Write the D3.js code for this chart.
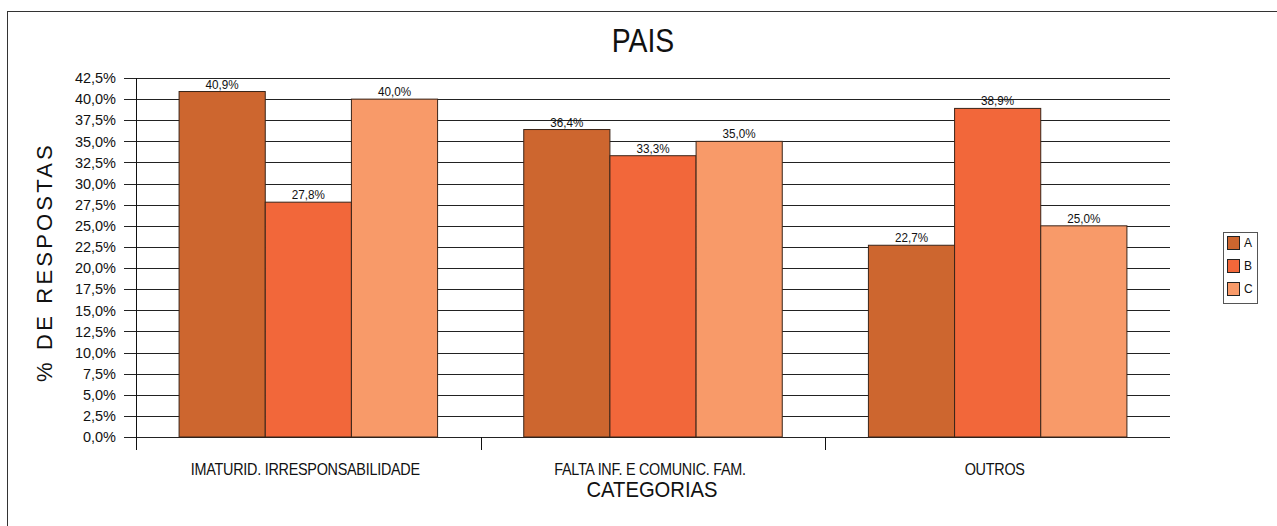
<!DOCTYPE html>
<html>
<head>
<meta charset="utf-8">
<script src="https://cdn.jsdelivr.net/npm/d3@7"></script>
<style>
  html, body { margin: 0; padding: 0; background: #fff; }
  svg { display: block; }
  text { font-family: "Liberation Sans", Arial, sans-serif; fill: #111; }
</style>
</head>
<body>
<svg id="chart" width="1277" height="526"></svg>
<script>
// Category names along the x axis
const categories = ["IMATURID. IRRESPONSABILIDADE", "FALTA INF. E COMUNIC. FAM.", "OUTROS"];
// Series keys shown in the legend
const seriesKeys = ["A", "B", "C"];
// Percentages per series, in category order
const seriesA = [40.9, 36.4, 22.7];
const seriesB = [27.8, 33.3, 38.9];
const seriesC = [40.0, 35.0, 25.0];
// Y axis ticks (percent)
const yTicks = [0, 2.5, 5, 7.5, 10, 12.5, 15, 17.5, 20, 22.5, 25, 27.5, 30, 32.5, 35, 37.5, 40, 42.5];

const colors = { A: "#cd662f", B: "#f2673a", C: "#f89a69" };
const values = { A: seriesA, B: seriesB, C: seriesC };

const svg = d3.select("#chart");
const fmt = v => d3.format(".1f")(v).replace(".", ",") + "%";

// Condensed text helper: horizontal squeeze around the anchor point
function narrowText(sel, x, y, sx) {
  sel.attr("transform", (d, i) => `translate(${typeof x === "function" ? x(d, i) : x},${typeof y === "function" ? y(d, i) : y}) scale(${sx},1)`);
}

// Outer frame
svg.append("rect")
  .attr("x", 7.5).attr("y", 11.5)
  .attr("width", 1400).attr("height", 700)
  .attr("fill", "none").attr("stroke", "#333").attr("stroke-width", 1);

const plot = { left: 136, right: 1170, top: 78, bottom: 437 };

const x0 = d3.scaleBand().domain(categories).range([plot.left, plot.right]).padding(0);
// each group of bars takes the middle 75% of its category band
const x1 = d3.scaleBand().domain(seriesKeys)
  .range([x0.bandwidth() * 0.125, x0.bandwidth() * 0.875]).padding(0);

const y = d3.scaleLinear().domain([0, 42.5]).range([plot.bottom, plot.top]);

// Horizontal gridlines
svg.append("g").selectAll("line").data(yTicks).join("line")
  .attr("x1", plot.left - 12).attr("x2", plot.right)
  .attr("y1", d => Math.round(y(d)) + 0.5).attr("y2", d => Math.round(y(d)) + 0.5)
  .attr("stroke", "#222").attr("stroke-width", 1);

// Y tick labels
svg.append("g").selectAll("text").data(yTicks).join("text")
  .attr("x", 116).attr("y", d => y(d))
  .attr("dy", "0.36em")
  .attr("text-anchor", "end")
  .style("font-size", "14.5px")
  .text(fmt);

// Y axis line
svg.append("line")
  .attr("x1", plot.left + 0.5).attr("x2", plot.left + 0.5)
  .attr("y1", plot.top).attr("y2", plot.bottom + 13)
  .attr("stroke", "#111");

// Category separators below the axis
const seps = categories.map(c => x0(c) + x0.bandwidth()).slice(0, -1);
svg.append("g").selectAll("line").data(seps).join("line")
  .attr("x1", d => Math.round(d) + 0.5).attr("x2", d => Math.round(d) + 0.5)
  .attr("y1", plot.bottom).attr("y2", plot.bottom + 13)
  .attr("stroke", "#111");

// Bars
const groups = svg.append("g").selectAll("g").data(categories).join("g")
  .attr("transform", c => `translate(${x0(c)},0)`);

groups.selectAll("rect")
  .data((c, i) => seriesKeys.map(k => ({ key: k, value: values[k][i] })))
  .join("rect")
  .attr("x", d => x1(d.key))
  .attr("y", d => y(d.value))
  .attr("width", x1.bandwidth())
  .attr("height", d => y(0) - y(d.value))
  .attr("fill", d => colors[d.key])
  .attr("stroke", "#3a2418").attr("stroke-width", 1);

// Value labels
groups.selectAll("text")
  .data((c, i) => seriesKeys.map(k => ({ key: k, value: values[k][i] })))
  .join("text")
  .call(narrowText, d => x1(d.key) + x1.bandwidth() / 2, d => y(d.value) - 3, 0.9)
  .attr("text-anchor", "middle")
  .style("font-size", "13px")
  .text(d => fmt(d.value));

// Category labels
svg.append("g").selectAll("text").data(categories).join("text")
  .call(narrowText, c => x0(c) + x0.bandwidth() / 2 - 3, 475, 0.9)
  .attr("text-anchor", "middle")
  .style("font-size", "16px")
  .style("letter-spacing", "-0.3px")
  .text(c => c);

// Title
svg.append("text")
  .call(narrowText, 643, 52, 0.86)
  .attr("text-anchor", "middle")
  .style("font-size", "33px")
  .text("PAIS");

// X axis title
svg.append("text")
  .call(narrowText, 652, 497, 0.92)
  .attr("text-anchor", "middle")
  .style("font-size", "22px")
  .text("CATEGORIAS");

// Y axis title
svg.append("text")
  .attr("transform", "translate(52,262) rotate(-90)")
  .attr("text-anchor", "middle")
  .style("font-size", "22px")
  .style("letter-spacing", "3.2px")
  .text("% DE RESPOSTAS");

// Legend
const legend = svg.append("g");
legend.append("rect")
  .attr("x", 1223.5).attr("y", 232.5).attr("width", 34).attr("height", 71)
  .attr("fill", "#fff").attr("stroke", "#555");
const li = legend.selectAll("g").data(seriesKeys).join("g")
  .attr("transform", (k, i) => `translate(1227,${236 + i * 23})`);
li.append("rect")
  .attr("x", 0.5).attr("y", 0.5).attr("width", 12).attr("height", 13)
  .attr("fill", k => colors[k]).attr("stroke", "#222");
li.append("text")
  .attr("x", 17).attr("y", 7).attr("dy", "0.36em")
  .style("font-size", "12px")
  .text(k => k);
</script>
</body>
</html>
